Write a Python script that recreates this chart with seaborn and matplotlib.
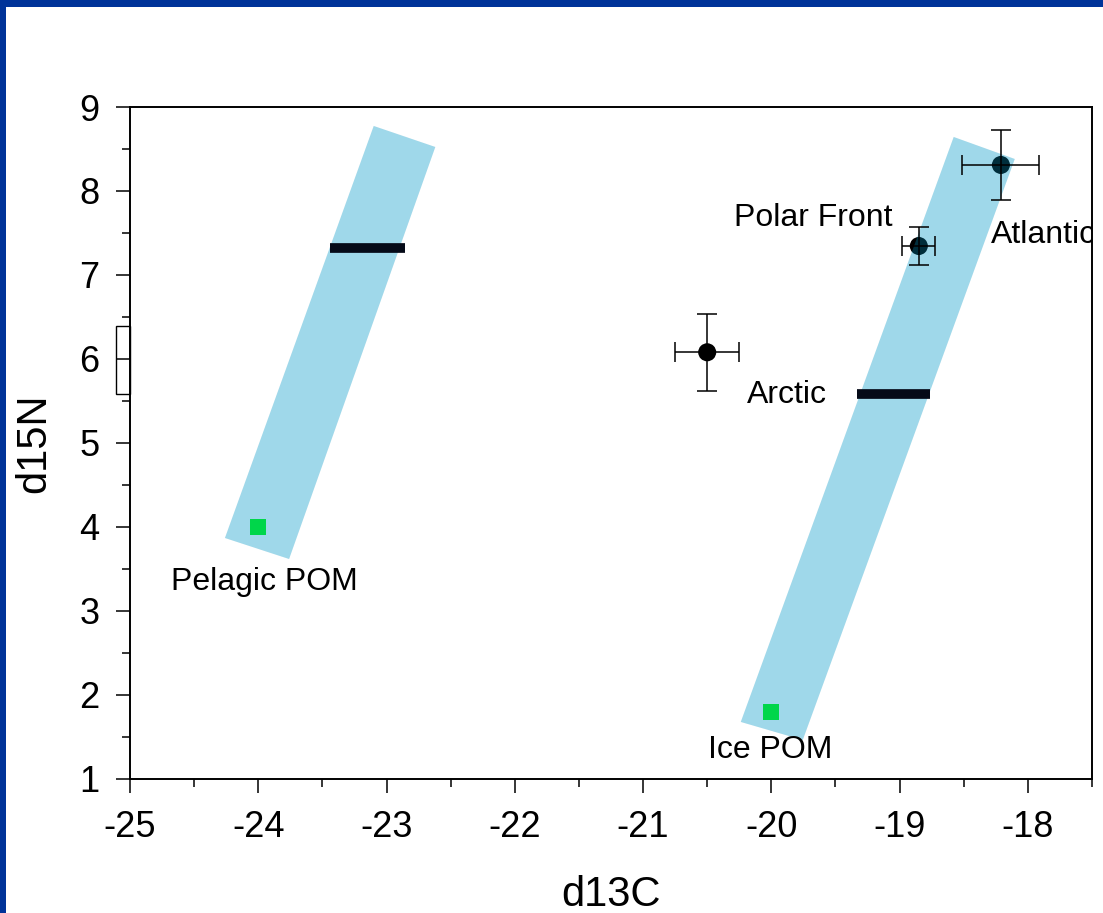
import matplotlib
matplotlib.use("Agg")
import matplotlib.pyplot as plt
import seaborn as sns
import pandas as pd
from matplotlib.patches import Rectangle

# ---- data ----
sites = ["Arctic", "Polar Front", "Atlantic"]
site_d13c = [-20.50, -18.85, -18.21]
site_d15n = [6.08, 7.345, 8.31]
site_xerr = [0.25, 0.13, 0.30]
site_yerr = [0.46, 0.23, 0.42]

pom_names = ["Pelagic POM", "Ice POM"]
pom_d13c = [-24.0, -20.0]
pom_d15n = [4.0, 1.80]

band_left_x = [-23.10, -22.62, -23.76, -24.26]
band_left_y = [8.774, 8.524, 3.619, 3.869]
band_right_x = [-18.578, -18.102, -19.755, -20.238]
band_right_y = [8.643, 8.381, 1.464, 1.679]

bar_left_x = [-23.44, -22.86]
bar_left_y = 7.32
bar_right_x = [-19.33, -18.76]
bar_right_y = 5.58

bracket_x = [-25.11, -25.0]
bracket_y = [5.58, 6.39]

label_text = ["Pelagic POM", "Ice POM", "Arctic", "Polar Front", "Atlantic"]
label_x = [-23.95, -20.01, -19.88, -19.67, -17.88]
label_y = [3.35, 1.35, 5.57, 7.68, 7.48]

x_ticks = [-25, -24, -23, -22, -21, -20, -19, -18]
y_ticks = [1, 2, 3, 4, 5, 6, 7, 8, 9]

# ---- style ----
sns.set_style("ticks")
plt.rcParams["font.family"] = ["Liberation Sans", "DejaVu Sans"]
plt.rcParams["text.color"] = "black"
plt.rcParams["axes.labelcolor"] = "black"

BAND_BASE = "#d5e3e8"     # under-layer; combined with overlay gives #a0d8ea
BAND_OVER = "#00b8f0"
GREEN = "#00d64a"

fig = plt.figure(figsize=(11.03, 9.13), dpi=100)
ax = fig.add_axes([0.1179, 0.1468, 0.990 - 0.1179, 0.8828 - 0.1468])

# frame of the slide
fig.patches.append(Rectangle((0, 1 - 7 / 913), 1, 7 / 913, transform=fig.transFigure,
                             facecolor="#003399", edgecolor="none", zorder=0))
fig.patches.append(Rectangle((0, 0), 6 / 1103, 1, transform=fig.transFigure,
                             facecolor="#003399", edgecolor="none", zorder=0))

# bands (base layer)
for bx, by in [(band_left_x, band_left_y), (band_right_x, band_right_y)]:
    ax.fill(bx, by, color=BAND_BASE, lw=0, zorder=1)

# site markers
df_sites = pd.DataFrame({"d13C": site_d13c, "d15N": site_d15n, "site": sites})
sns.scatterplot(data=df_sites, x="d13C", y="d15N", ax=ax, color="black", s=13 ** 2,
                edgecolor="none", zorder=3, legend=False)
# translucent band layer on top tints markers lying on the band
for bx, by in [(band_left_x, band_left_y), (band_right_x, band_right_y)]:
    ax.fill(bx, by, color=BAND_OVER, alpha=0.25, lw=0, zorder=4)

# thick bars
ax.plot(bar_left_x, [bar_left_y] * 2, color="#050a18", lw=7, solid_capstyle="butt", zorder=5)
ax.plot(bar_right_x, [bar_right_y] * 2, color="#050a18", lw=7, solid_capstyle="butt", zorder=5)

ax.errorbar(site_d13c, site_d15n, xerr=site_xerr, yerr=site_yerr, fmt="none",
            ecolor="black", elinewidth=1.1, capsize=7, capthick=1.1, zorder=5)

# POM squares
df_pom = pd.DataFrame({"d13C": pom_d13c, "d15N": pom_d15n, "name": pom_names})
sns.scatterplot(data=df_pom, x="d13C", y="d15N", ax=ax, color=GREEN, marker="s",
                s=11.5 ** 2, edgecolor="none", zorder=6, legend=False)

# labels
for t, x, y in zip(label_text, label_x, label_y):
    ax.text(x, y, t, fontsize=23, ha="center", va="center", zorder=7, clip_on=True,
            color="black")

# bracket outside the axis
ax.add_patch(Rectangle((bracket_x[0], bracket_y[0]), bracket_x[1] - bracket_x[0],
                       bracket_y[1] - bracket_y[0], fill=False, edgecolor="black",
                       lw=1.0, clip_on=False, zorder=8))

ax.set_xlim(-25, -17.5)
ax.set_ylim(1, 9)
ax.set_xticks(x_ticks)
ax.set_yticks(y_ticks)
ax.set_xticks([v + 0.5 for v in x_ticks], minor=True)
ax.set_yticks([v + 0.5 for v in y_ticks[:-1]], minor=True)
ax.set_xticklabels([str(v) for v in x_ticks])
ax.set_yticklabels([str(v) for v in y_ticks])
ax.tick_params(which="major", direction="out", length=10, width=1.1, labelsize=26, pad=12,
               color="black", labelcolor="black")
ax.tick_params(which="minor", direction="out", length=6, width=1.1, color="black")
for s in ax.spines.values():
    s.set_visible(True)
    s.set_linewidth(1.4)
    s.set_color("black")

ax.set_xlabel("d13C", fontsize=30, labelpad=22)
ax.set_ylabel("d15N", fontsize=30, labelpad=18)

fig.savefig("out.png", dpi=100)
